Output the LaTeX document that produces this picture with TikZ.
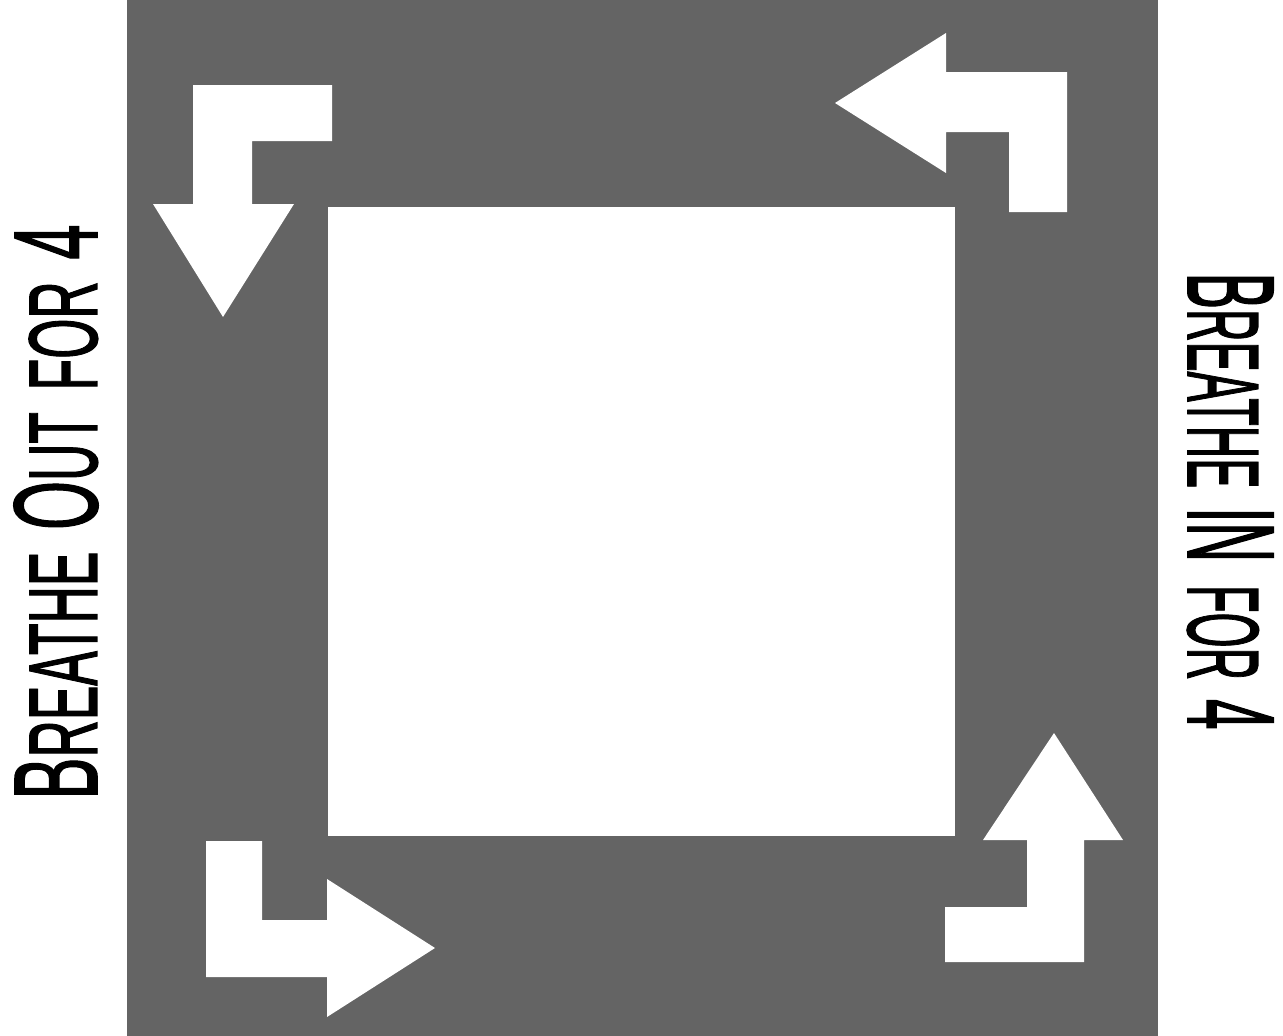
\documentclass[tikz,border=0pt]{standalone}
\usepackage{fontspec}
\usepackage{graphicx}
\setmainfont{Liberation Sans}
\newfontfamily\labelfont[FakeBold=1.6]{Liberation Sans}
\definecolor{panel}{RGB}{100,100,100}
\newcommand{\Lg}{\fontsize{100}{100}\selectfont}
\newcommand{\Sm}{\fontsize{82}{82}\selectfont}
\newcommand{\gap}{\hspace{0.42em}}
\tikzset{
  arrowshape/.style={fill=white, draw=none},
  label/.style={inner sep=0pt, outer sep=0pt, text=black, font=\labelfont}
}
\begin{document}
\begin{tikzpicture}[x=1pt,y=-1pt]
\useasboundingbox (0,0) rectangle (1283,1036);
\fill[white] (0,0) rectangle (1283,1036);
% gray panel and white centre
\fill[panel] (127,0) rectangle (1158,1036);
\fill[white] (328,207) rectangle (955,836);
% top-left arrow (down)
\fill[arrowshape] (193,85) -- (332,85) -- (332,141) -- (252,141) -- (252,204) -- (294,204) -- (223,317) -- (153,204) -- (193,204) -- cycle;
% top-right arrow (left)
\fill[arrowshape] (835,103) -- (946,33) -- (946,72) -- (1067,72) -- (1067,212) -- (1009,212) -- (1009,132) -- (946,132) -- (946,173) -- cycle;
% bottom-right arrow (up)
\fill[arrowshape] (1054,733) -- (1123,840) -- (1084,840) -- (1084,962) -- (945,962) -- (945,907) -- (1027,907) -- (1027,840) -- (983,840) -- cycle;
% bottom-left arrow (right)
\fill[arrowshape] (206,841) -- (262,841) -- (262,920) -- (327,920) -- (327,879) -- (435,948) -- (327,1017) -- (327,977) -- (206,977) -- cycle;
% labels
\node[label, rotate=90] (out) at (56,512) {\resizebox{575pt}{83pt}{\Lg B\Sm REATHE\gap\Lg O\Sm UT\gap FOR\gap\Lg 4}};
\node[label, rotate=-90] (in) at (1230,501) {\resizebox{457pt}{85pt}{\Lg B\Sm REATHE\gap\Lg IN\gap\Sm FOR\gap\Lg 4}};
\end{tikzpicture}
\end{document}
